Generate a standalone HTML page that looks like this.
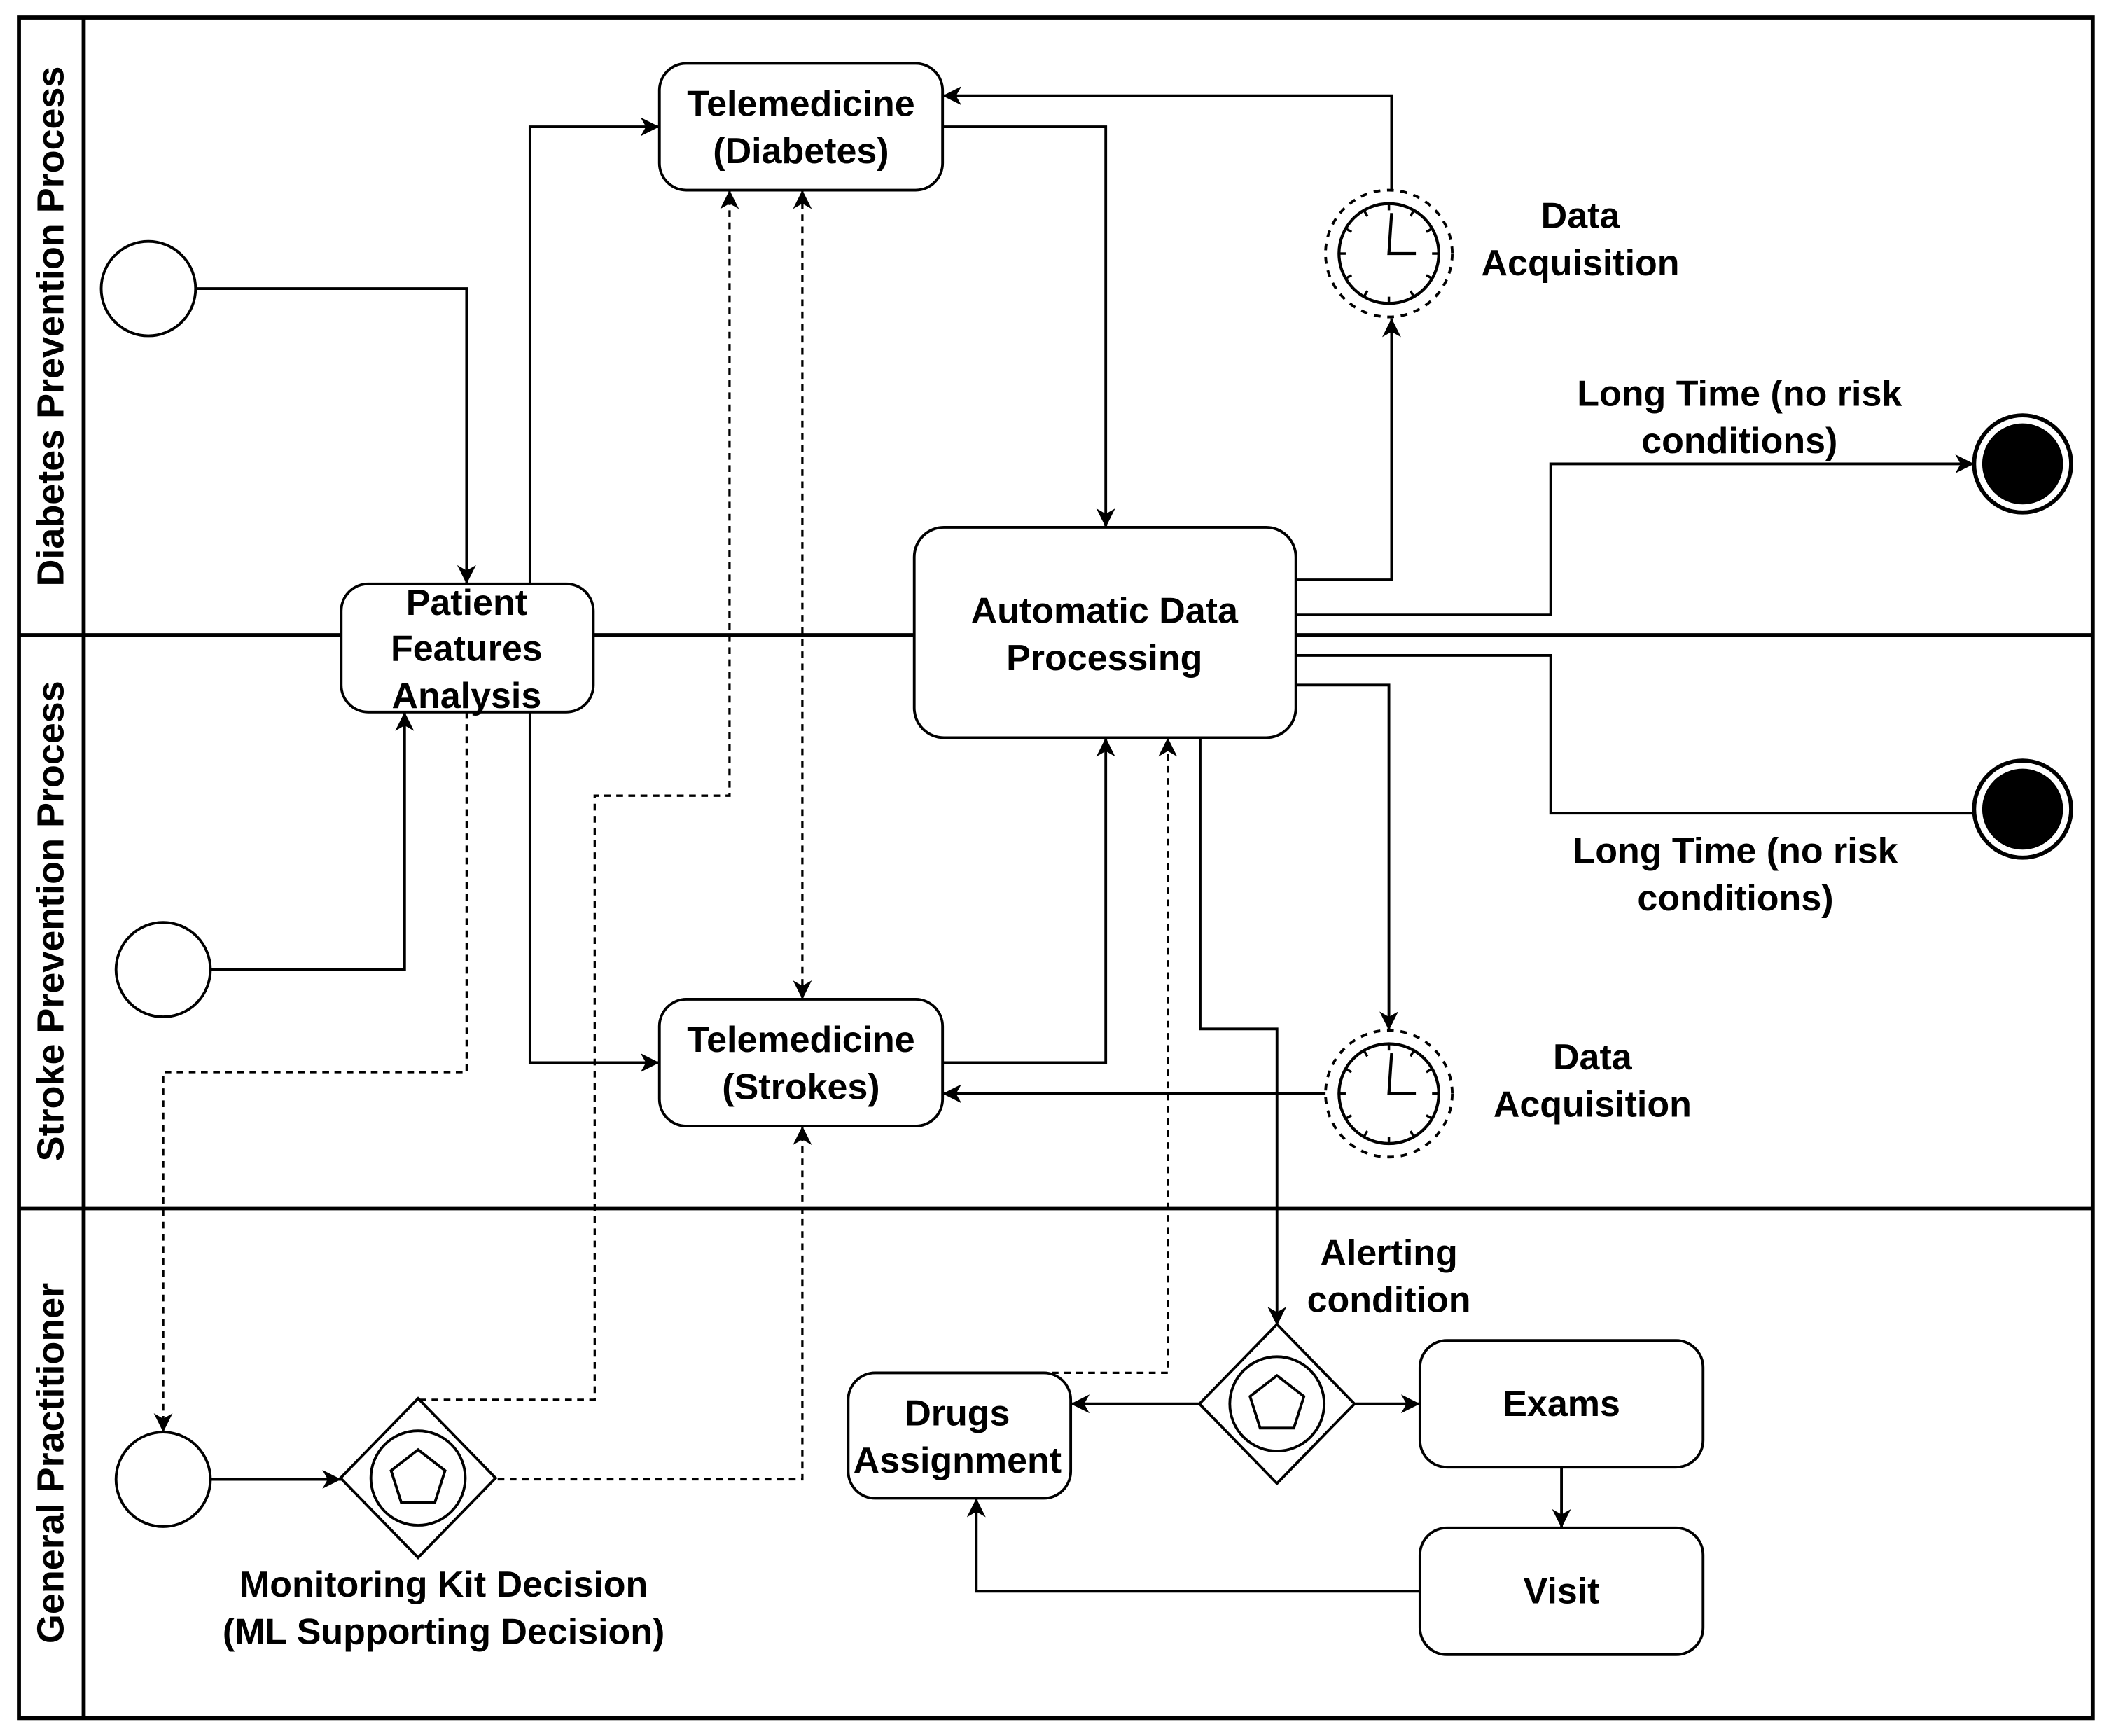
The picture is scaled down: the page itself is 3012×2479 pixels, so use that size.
<!DOCTYPE html>
<html><head><meta charset="utf-8"><style>
html,body{margin:0;padding:0;background:#fff;}
svg{display:block;}
text{font-family:"Liberation Sans",sans-serif;font-weight:bold;fill:#000;}
</style></head><body>
<svg width="3012" height="2479" viewBox="0 0 1564 1287.3" xmlns="http://www.w3.org/2000/svg">
<defs>
<marker id="a" markerUnits="userSpaceOnUse" markerWidth="16" markerHeight="14" refX="14" refY="7" orient="auto-start-reverse">
<path d="M0,0 L14,7 L0,14 L4,7 Z" fill="#000"/>
</marker>
<g id="clock">
<circle r="47" fill="#fff" stroke="#000" stroke-width="2" stroke-dasharray="5,5"/>
<circle r="37" fill="#fff" stroke="#000" stroke-width="2.2"/>
<g stroke="#000" stroke-width="1.8">
<line x1="0" y1="-37" x2="0" y2="-32"/><line x1="0" y1="37" x2="0" y2="32"/>
<line x1="-37" y1="0" x2="-32" y2="0"/><line x1="37" y1="0" x2="32" y2="0"/>
<line x1="18.5" y1="-32" x2="16" y2="-27.7"/><line x1="-18.5" y1="-32" x2="-16" y2="-27.7"/>
<line x1="18.5" y1="32" x2="16" y2="27.7"/><line x1="-18.5" y1="32" x2="-16" y2="27.7"/>
<line x1="32" y1="-18.5" x2="27.7" y2="-16"/><line x1="-32" y1="-18.5" x2="-27.7" y2="-16"/>
<line x1="32" y1="18.5" x2="27.7" y2="16"/><line x1="-32" y1="18.5" x2="-27.7" y2="16"/>
</g>
<polyline points="2,-30 0,0 20,0" fill="none" stroke="#000" stroke-width="2.2"/>
</g>
<g id="gw">
<polygon points="0,-59 57.5,0 0,59 -57.5,0" fill="#fff" stroke="#000" stroke-width="2"/>
<circle r="35" fill="none" stroke="#000" stroke-width="2"/>
<polygon points="0,-21 20,-5.5 12.5,18 -12.5,18 -20,-5.5" fill="none" stroke="#000" stroke-width="2"/>
</g>
</defs>

<rect x="14" y="13" width="1538" height="1261" fill="none" stroke="#000" stroke-width="3"/>
<line x1="62" y1="13" x2="62" y2="1274" stroke="#000" stroke-width="3"/>
<line x1="14" y1="471" x2="1552" y2="471" stroke="#000" stroke-width="3"/>
<line x1="14" y1="896" x2="1552" y2="896" stroke="#000" stroke-width="3"/>
<text transform="translate(47,242) rotate(-90)" text-anchor="middle" font-size="28">Diabetes Prevention Process</text>
<text transform="translate(47,683) rotate(-90)" text-anchor="middle" font-size="28">Stroke Prevention Process</text>
<text transform="translate(47,1085) rotate(-90)" text-anchor="middle" font-size="28">General Practitioner</text>

<g fill="none" stroke="#000" stroke-width="2">
<polyline points="145,214 346,214 346,433" marker-end="url(#a)"/>
<polyline points="393,433 393,94 489,94" marker-end="url(#a)"/>
<polyline points="699,94 820,94 820,391" marker-end="url(#a)"/>
<polyline points="961,430 1032,430 1032,236" marker-end="url(#a)"/>
<polyline points="1032,141 1032,71 699,71" marker-end="url(#a)"/>
<polyline points="961,456 1150,456 1150,344 1464,344" marker-end="url(#a)"/>
<polyline points="961,486 1150,486 1150,603 1464,603"/>
<polyline points="961,508 1030,508 1030,764" marker-end="url(#a)"/>
<polyline points="984,811 699,811" marker-end="url(#a)"/>
<polyline points="699,788 820,788 820,547" marker-end="url(#a)"/>
<polyline points="156,719 300,719 300,528" marker-end="url(#a)"/>
<polyline points="393,528 393,788 489,788" marker-end="url(#a)"/>
<polyline points="890,547 890,763 947,763 947,983" marker-end="url(#a)"/>
<polyline points="889,1041 794,1041" marker-end="url(#a)"/>
<polyline points="1005,1041 1053,1041" marker-end="url(#a)"/>
<polyline points="1158,1088 1158,1133" marker-end="url(#a)"/>
<polyline points="1053,1180 724,1180 724,1111" marker-end="url(#a)"/>
<polyline points="156,1097 253,1097" marker-end="url(#a)"/>
</g>
<g fill="none" stroke="#000" stroke-width="1.7" stroke-dasharray="5,4">
<polyline points="346,528 346,795 121,795 121,1062" marker-end="url(#a)"/>
<polyline points="311,1038 441,1038 441,590 541,590 541,141" marker-end="url(#a)"/>
<polyline points="595,141 595,741" marker-start="url(#a)" marker-end="url(#a)"/>
<polyline points="369,1097 595,1097 595,835" marker-end="url(#a)"/>
<polyline points="780,1018 866,1018 866,547" marker-end="url(#a)"/>
</g>

<g fill="#fff" stroke="#000" stroke-width="2">
<circle cx="110" cy="214" r="35"/>
<circle cx="121" cy="719" r="35"/>
<circle cx="121" cy="1097" r="35"/>
</g>
<g>
<circle cx="1500" cy="344" r="36" fill="#fff" stroke="#000" stroke-width="3"/>
<circle cx="1500" cy="344" r="30" fill="#000"/>
<circle cx="1500" cy="600" r="36" fill="#fff" stroke="#000" stroke-width="3"/>
<circle cx="1500" cy="600" r="30" fill="#000"/>
</g>

<g fill="#fff" stroke="#000" stroke-width="2">
<rect x="253" y="433" width="187" height="95" rx="20"/>
<rect x="489" y="47" width="210" height="94" rx="20"/>
<rect x="489" y="741" width="210" height="94" rx="20"/>
<rect x="678" y="391" width="283" height="156" rx="22"/>
<rect x="629" y="1018" width="165" height="93" rx="20"/>
<rect x="1053" y="994" width="210" height="94" rx="20"/>
<rect x="1053" y="1133" width="210" height="94" rx="20"/>
</g>

<use href="#clock" x="1030" y="188"/>
<use href="#clock" x="1030" y="811"/>
<use href="#gw" x="310" y="1096"/>
<use href="#gw" x="947" y="1041"/>

<g font-size="27" text-anchor="middle">
<text x="346" y="456">Patient</text>
<text x="346" y="490">Features</text>
<text x="346" y="525">Analysis</text>
<text x="594" y="86">Telemedicine</text>
<text x="594" y="121">(Diabetes)</text>
<text x="594" y="780">Telemedicine</text>
<text x="594" y="815">(Strokes)</text>
<text x="819" y="462">Automatic Data</text>
<text x="819" y="497">Processing</text>
<text x="710" y="1057">Drugs</text>
<text x="710" y="1092">Assignment</text>
<text x="1158" y="1050">Exams</text>
<text x="1158" y="1189">Visit</text>
<text x="1172" y="169">Data</text>
<text x="1172" y="204">Acquisition</text>
<text x="1181" y="793">Data</text>
<text x="1181" y="828">Acquisition</text>
<text x="1290" y="301">Long Time (no risk</text>
<text x="1290" y="336">conditions)</text>
<text x="1287" y="640">Long Time (no risk</text>
<text x="1287" y="675">conditions)</text>
<text x="1030" y="938">Alerting</text>
<text x="1030" y="973">condition</text>
<text x="329" y="1184">Monitoring Kit Decision</text>
<text x="329" y="1219">(ML Supporting Decision)</text>
</g>
</svg>
</body></html>
